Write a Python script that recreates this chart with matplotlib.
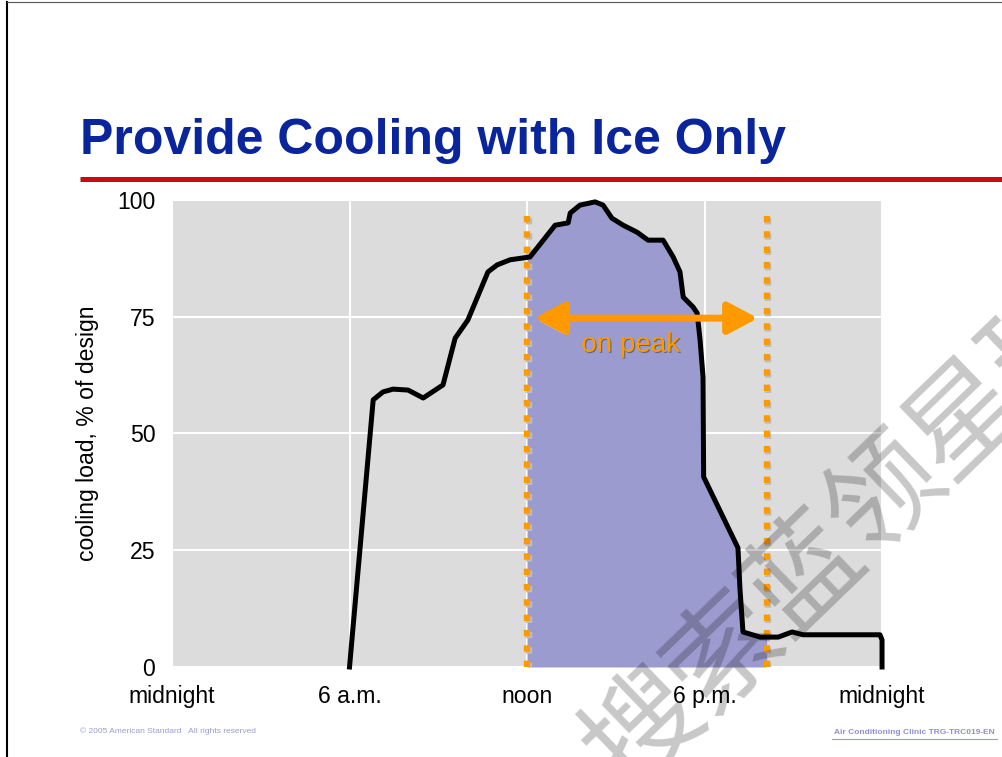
import matplotlib.pyplot as plt
import matplotlib.transforms as mtransforms
import numpy as np
from matplotlib.lines import Line2D
from matplotlib.patches import FancyArrowPatch
import matplotlib.patheffects as pe

# hourly cooling load profile, % of design load
hours = [6.0, 6.80, 7.13, 7.47, 7.98, 8.49, 9.16, 9.57, 10.0, 10.68, 10.99, 11.43, 12.1,
         12.95, 13.39, 13.46, 13.79, 14.30, 14.57, 14.87, 15.25, 15.72, 16.09, 16.60,
         16.94, 17.17, 17.28, 17.61, 17.75, 17.85, 17.95, 17.97, 19.13, 19.20, 19.30,
         19.88, 20.49, 20.96, 21.33, 23.93, 24.0, 24.0]
load = [0, 57.2, 58.9, 59.5, 59.3, 57.6, 60.4, 70.4, 74.3, 84.6, 86.1, 87.2, 87.8,
        94.6, 95.1, 97.2, 98.9, 99.6, 98.9, 96.1, 94.6, 93.1, 91.4, 91.4,
        87.8, 84.6, 79.2, 77.1, 75.8, 70.0, 62.0, 40.7, 25.5, 16.5, 7.5,
        6.4, 6.4, 7.5, 6.9, 6.9, 5.8, 0]

on_peak = (12.0, 20.1)
x_ticks = [0, 6, 12, 18, 24]
x_labels = ['midnight', '6 a.m.', 'noon', '6 p.m.', 'midnight']
y_ticks = [0, 25, 50, 75, 100]

SANS = ['Liberation Sans', 'DejaVu Sans']
ORANGE = '#ff9900'

fig = plt.figure(figsize=(10.03, 7.57), dpi=100)
fig.patch.set_facecolor('white')

# slide border
fig.add_artist(Line2D([0.007, 0.007], [0, 0.997], color='black', lw=1.5))
fig.add_artist(Line2D([0.007, 1.0], [0.997, 0.997], color='#555555', lw=0.8))

fig.text(0.080, 0.7966, 'Provide Cooling with Ice Only', color='#0a249b',
         fontsize=36, fontweight='bold', family=SANS, va='baseline', ha='left')
fig.add_artist(Line2D([0.080, 1.0], [0.763, 0.763], color='#cc0a0a', lw=3.6, solid_capstyle='butt'))

ax = fig.add_axes([0.1715, 0.1189, 0.7079, 0.6169])
ax.set_facecolor('#dcdcdc')
for s in ax.spines.values():
    s.set_visible(False)
ax.set_xlim(0, 24)
ax.set_ylim(0, 100)
ax.set_xticks(x_ticks)
ax.set_xticklabels(x_labels)
ax.set_yticks(y_ticks)
ax.tick_params(axis='x', length=0, labelsize=16.6, pad=13)
ax.tick_params(axis='y', length=0, labelsize=16.6, pad=12)
for lab in ax.get_xticklabels() + ax.get_yticklabels():
    lab.set_family(SANS)
ax.grid(True, color='white', lw=1.5)
ax.set_axisbelow(True)
ax.set_ylabel('cooling load, % of design', fontsize=16.6, family=SANS, labelpad=13)

# on-peak area under the load curve
hx = np.array(hours)
ly = np.array(load)
mask = (hx > on_peak[0]) & (hx < on_peak[1])
fx = np.concatenate([[on_peak[0]], hx[mask], [on_peak[1]]])
fy = np.concatenate([[np.interp(on_peak[0], hx, ly)], ly[mask],
                     [np.interp(on_peak[1], hx[hx > 19], ly[hx > 19])]])
ax.fill_between(fx, 0, fy, color='#9b9bcf', lw=0, zorder=2)

shadow = ax.get_xaxis_transform() + mtransforms.ScaledTranslation(1.2 / 72, -1.2 / 72, fig.dpi_scale_trans)
for xv in on_peak:
    ax.plot([xv, xv], [0, 0.985], color='#bdbdbd', lw=4.6, ls=(0, (1, 1.4)), dash_capstyle='butt',
            zorder=3, transform=shadow)
    ax.plot([xv, xv], [0, 0.985], color=ORANGE, lw=4.6, ls=(0, (1, 1.4)), dash_capstyle='butt',
            zorder=4, transform=ax.get_xaxis_transform())

ax.plot(hours, load, color='black', lw=3.6, solid_joinstyle='round', zorder=5, clip_on=False)

arrow = FancyArrowPatch((on_peak[0] + 0.15, 74.7), (on_peak[1] - 0.2, 74.7),
                        arrowstyle='<|-|>,head_length=0.9,head_width=0.48', mutation_scale=20,
                        color=ORANGE, lw=5, zorder=6,
                        path_effects=[pe.SimplePatchShadow(offset=(-1.5, -2), shadow_rgbFace='white', alpha=1),
                                      pe.Normal()])
ax.add_patch(arrow)
ax.text(15.5, 69, 'on peak', color=ORANGE, fontsize=20, family=SANS, ha='center', va='center', zorder=6,
        path_effects=[pe.withSimplePatchShadow(offset=(0.8, -0.8), shadow_rgbFace='#444444', alpha=0.6)])

fig.text(0.080, 0.034, '\u00a9 2005 American Standard   All rights reserved', color='#9c9ccc',
         fontsize=6.0, family=SANS, va='center', ha='left')
fig.text(0.992, 0.033, 'Air Conditioning Clinic TRG-TRC019-EN', color='#9090cc',
         fontsize=6.0, fontweight='bold', family=SANS, va='center', ha='right')
fig.add_artist(Line2D([0.830, 0.994], [0.024, 0.024], color='#9c9ccc', lw=0.8))

# diagonal watermark, one glyph at a time
mark = '搜索蓝领星球'
x0, y0 = 645, 730
for i, ch in enumerate(mark):
    px = x0 + 80 * i
    py = y0 - 78 * i
    fig.text(px / 1003, 1 - py / 757, ch, color='black', alpha=0.22, fontsize=82,
             family=['Noto Sans CJK SC', 'DejaVu Sans'], rotation=44, rotation_mode='anchor',
             ha='center', va='center', zorder=10)

fig.savefig('out.png', dpi=100)
